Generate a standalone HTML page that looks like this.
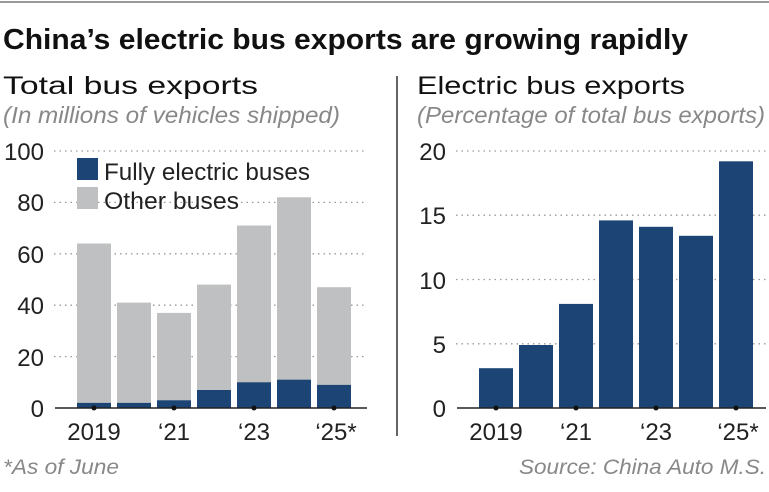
<!DOCTYPE html>
<html><head><style>
body{margin:0;background:#fff;}
svg text{font-family:"Liberation Sans",sans-serif;}
</style></head><body>
<svg width="769" height="487" viewBox="0 0 769 487" xmlns="http://www.w3.org/2000/svg">
<rect width="769" height="487" fill="#fff"/>
<line x1="0" y1="2" x2="769" y2="2" stroke="#999" stroke-width="2"/>
<text x="3" y="49" font-size="29" font-weight="bold" fill="#111" textLength="685" lengthAdjust="spacingAndGlyphs">China’s electric bus exports are growing rapidly</text>
<text x="3" y="94" font-size="25" fill="#111" textLength="255" lengthAdjust="spacingAndGlyphs">Total bus exports</text>
<text x="3" y="123" font-size="23" font-style="italic" fill="#888" textLength="337" lengthAdjust="spacingAndGlyphs">(In millions of vehicles shipped)</text>
<text x="417" y="94" font-size="25" fill="#111" textLength="268" lengthAdjust="spacingAndGlyphs">Electric bus exports</text>
<text x="417" y="123" font-size="23" font-style="italic" fill="#888" textLength="348" lengthAdjust="spacingAndGlyphs">(Percentage of total bus exports)</text>
<line x1="397" y1="76" x2="397" y2="436" stroke="#333" stroke-width="1.5"/>
<g stroke="#999" stroke-width="1.3" stroke-dasharray="1.5,4">
<line x1="54" y1="151" x2="367" y2="151"/><line x1="54" y1="202.4" x2="367" y2="202.4"/>
<line x1="54" y1="253.8" x2="367" y2="253.8"/><line x1="54" y1="305.2" x2="367" y2="305.2"/>
<line x1="54" y1="356.6" x2="367" y2="356.6"/>
<line x1="456" y1="151" x2="766" y2="151"/><line x1="456" y1="215.2" x2="766" y2="215.2"/>
<line x1="456" y1="279.5" x2="766" y2="279.5"/><line x1="456" y1="343.8" x2="766" y2="343.8"/>
</g>
<g font-size="24" fill="#222" text-anchor="end">
<text x="44" y="160">100</text><text x="44" y="211">80</text><text x="44" y="263">60</text>
<text x="44" y="314">40</text><text x="44" y="366">20</text><text x="44" y="417">0</text>
<text x="446" y="160">20</text><text x="446" y="224">15</text><text x="446" y="289">10</text>
<text x="446" y="353">5</text><text x="446" y="417">0</text>
</g>
<g fill="#bfc0c2">
<rect x="77" y="243.5" width="34" height="164.5"/>
<rect x="117" y="302.6" width="34" height="105.4"/>
<rect x="157" y="312.9" width="34" height="95.1"/>
<rect x="197" y="284.6" width="34" height="123.4"/>
<rect x="237" y="225.5" width="34" height="182.5"/>
<rect x="277" y="197.3" width="34" height="210.7"/>
<rect x="317" y="287.2" width="34" height="120.8"/>
</g>
<g fill="#1c4474">
<rect x="77" y="402.9" width="34" height="5.1"/>
<rect x="117" y="402.9" width="34" height="5.1"/>
<rect x="157" y="400.3" width="34" height="7.7"/>
<rect x="197" y="390" width="34" height="18"/>
<rect x="237" y="382.3" width="34" height="25.7"/>
<rect x="277" y="379.7" width="34" height="28.3"/>
<rect x="317" y="384.9" width="34" height="23.1"/>
<rect x="479" y="368.2" width="34" height="39.8"/>
<rect x="519" y="345" width="34" height="63"/>
<rect x="559" y="303.9" width="34" height="104.1"/>
<rect x="599" y="220.4" width="34" height="187.6"/>
<rect x="639" y="226.8" width="34" height="181.2"/>
<rect x="679" y="235.8" width="34" height="172.2"/>
<rect x="719" y="161.3" width="34" height="246.7"/>
</g>
<rect x="77" y="158" width="21" height="22" fill="#1c4474"/>
<rect x="77" y="187" width="21" height="22" fill="#bfc0c2"/>
<text x="104" y="180" font-size="24" fill="#222" textLength="206" lengthAdjust="spacingAndGlyphs">Fully electric buses</text>
<text x="104" y="209" font-size="24" fill="#222" textLength="135" lengthAdjust="spacingAndGlyphs">Other buses</text>
<line x1="55" y1="408" x2="367" y2="408" stroke="#222" stroke-width="1.5"/>
<line x1="457" y1="408" x2="766" y2="408" stroke="#222" stroke-width="1.5"/>
<g fill="#111">
<circle cx="94" cy="408" r="2.5"/><circle cx="174" cy="408" r="2.5"/><circle cx="254" cy="408" r="2.5"/><circle cx="334" cy="408" r="2.5"/>
<circle cx="496" cy="408" r="2.5"/><circle cx="576" cy="408" r="2.5"/><circle cx="656" cy="408" r="2.5"/><circle cx="736" cy="408" r="2.5"/>
</g>
<g font-size="24" fill="#222" text-anchor="middle">
<text x="94" y="440">2019</text><text x="174" y="440">‘21</text><text x="254" y="440">‘23</text><text x="336" y="440">‘25*</text>
<text x="496" y="440">2019</text><text x="576" y="440">‘21</text><text x="656" y="440">‘23</text><text x="738" y="440">‘25*</text>
</g>
<text x="3" y="474" font-size="21" font-style="italic" fill="#888" textLength="116" lengthAdjust="spacingAndGlyphs">*As of June</text>
<text x="766" y="474" font-size="21" font-style="italic" fill="#888" text-anchor="end" textLength="247" lengthAdjust="spacingAndGlyphs">Source: China Auto M.S.</text>
</svg>
</body></html>
